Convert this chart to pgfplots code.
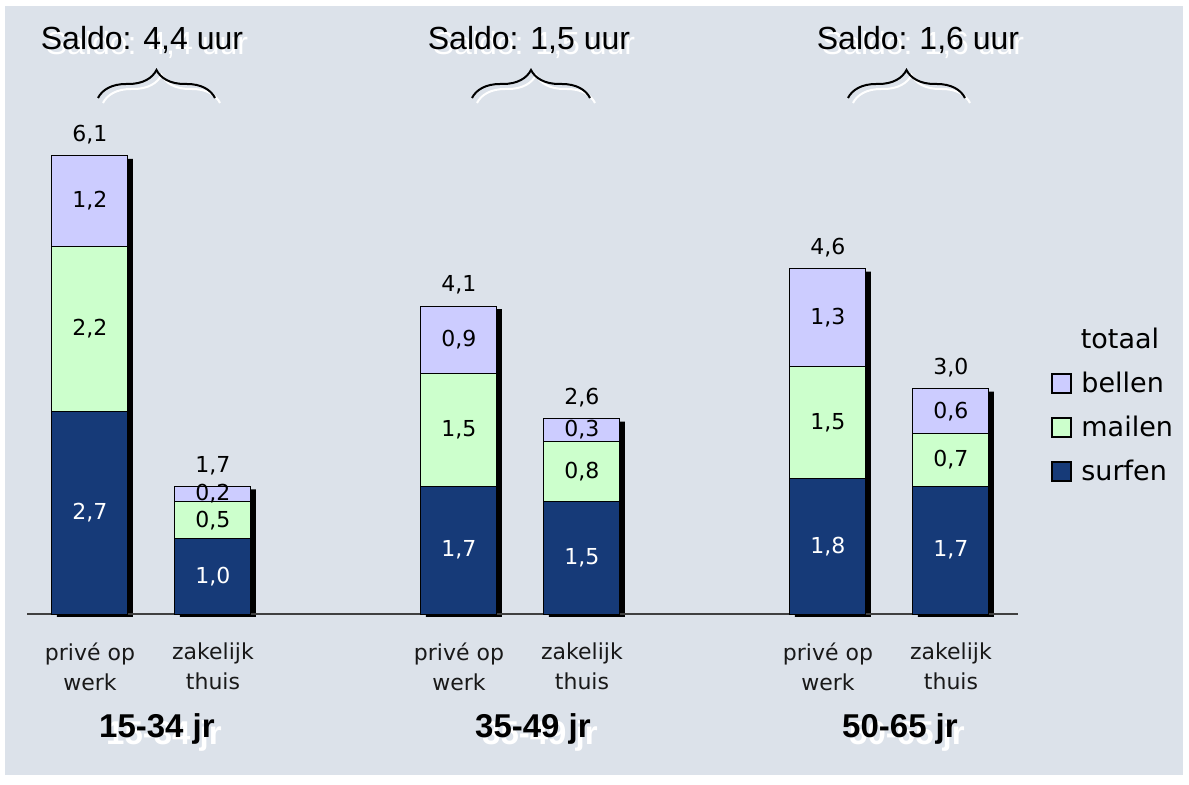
\documentclass[border=0pt]{standalone}
\usepackage{fontspec}
\setmainfont{DejaVu Sans}
\newfontfamily\arial{Liberation Sans}
\usepackage{pgfplots}
\pgfplotsset{compat=1.18}
\usepackage{pgfplotstable}
\usetikzlibrary{decorations.pathreplacing}
\definecolor{bg}{RGB}{220,226,234}
\definecolor{navy}{RGB}{22,58,120}
\definecolor{mgreen}{RGB}{204,255,204}
\definecolor{lav}{RGB}{204,204,255}
\pgfkeys{/pgf/number format/assume math mode=true}
\pgfplotstableread{
x surf mail bel tot
0 2.7 2.2 1.2 6.1
1 1.0 0.5 0.2 1.7
3 1.7 1.5 0.9 4.1
4 1.5 0.8 0.3 2.6
6 1.8 1.5 1.3 4.6
7 1.7 0.7 0.6 3.0
}\data
\newcommand\saldo[2]{%
  \node[anchor=base, white, font=\arial\fontsize{16}{18}\selectfont] at (#1+5,55) {Saldo: #2 uur};
  \node[anchor=base, black, font=\arial\fontsize{16}{18}\selectfont] at (#1,50) {Saldo: #2 uur};}
\newcommand\grp[2]{%
  \node[anchor=base, white, font=\arial\bfseries\fontsize{16.5}{18}\selectfont] at (#1+7,744) {#2};
  \node[anchor=base, black, font=\arial\bfseries\fontsize{16.5}{18}\selectfont] at (#1,738) {#2};}
\begin{document}
\begin{tikzpicture}
\begin{scope}[x=0.5pt,y=-0.5pt]
\fill[white] (0,0) rectangle (1189,785);
\fill[bg] (5,6) rectangle (1183,775);
\end{scope}
% shadow axis (shifted 5px right, 3px down) with totals
\begin{axis}[at={(16pt,-308.5pt)}, anchor=south west, scale only axis,
  width=495.5pt, height=297pt, xmin=-0.512, xmax=7.545, ymin=0, ymax=7.91,
  axis lines=none, ybar, bar width=38pt, clip=false]
\addplot[fill=black, draw=none,
  visualization depends on={\thisrow{tot}\as\totv},
  nodes near coords={\pgfmathprintnumber[fixed,fixed zerofill,precision=1,use comma]{\totv}},
  every node near coord/.append style={font=\fontsize{11}{13}\selectfont, text=black, anchor=center, xshift=-2.5pt, yshift=12pt}]
  table[x=x,y=tot]{\data};
\end{axis}
% main axis
\begin{axis}[at={(13.5pt,-307pt)}, anchor=south west, scale only axis,
  width=495.5pt, height=297pt, xmin=-0.512, xmax=7.545, ymin=0, ymax=7.91,
  axis x line=bottom, axis y line=none,
  x axis line style={-, black!75, line width=0.6pt},
  ybar stacked, bar width=38pt, clip=false,
  xtick={0,1,3,4,6,7},
  xticklabels={{privé op\\werk},{zakelijk\\thuis},{privé op\\werk},{zakelijk\\thuis},{privé op\\werk},{zakelijk\\thuis}},
  major tick length=0pt,
  xticklabel style={align=center, font=\fontsize{11}{15}\selectfont, yshift=-11pt, text=black!90},
  every node near coord/.style={font=\fontsize{11}{13}\selectfont},
]
\addplot[fill=navy, draw=black, line width=0.5pt,
  visualization depends on={\thisrow{surf}\as\hh},
  nodes near coords={\pgfmathprintnumber[fixed,fixed zerofill,precision=1,use comma]{\hh}},
  every node near coord/.append style={text=white, anchor=center}]
  table[x=x,y=surf]{\data};
\addplot[fill=mgreen, draw=black, line width=0.5pt,
  visualization depends on={\thisrow{mail}\as\hh},
  nodes near coords={\pgfmathprintnumber[fixed,fixed zerofill,precision=1,use comma]{\hh}},
  every node near coord/.append style={text=black, anchor=center}]
  table[x=x,y=mail]{\data};
\addplot[fill=lav, draw=black, line width=0.5pt,
  visualization depends on={\thisrow{bel}\as\hh},
  nodes near coords={\pgfmathprintnumber[fixed,fixed zerofill,precision=1,use comma]{\hh}},
  every node near coord/.append style={text=black, anchor=center}]
  table[x=x,y=bel]{\data};
\end{axis}
\begin{scope}[x=0.5pt,y=-0.5pt]
\saldo{142}{4,4}
\saldo{529}{1,5}
\saldo{918}{1,6}
\foreach \a/\b in {98/215, 472/590, 848/965}{
  \draw[white, line width=1pt, decorate, decoration={brace, amplitude=14pt}] (\a+5,103) -- (\b+5,103);
  \draw[black, line width=1pt, decorate, decoration={brace, amplitude=14pt}] (\a,98) -- (\b,98);
}
\grp{157}{15-34 jr}
\grp{533}{35-49 jr}
\grp{900}{50-65 jr}
% legend
\node[anchor=base, font=\fontsize{13.5}{16}\selectfont] at (1120,349) {totaal};
\foreach \c/\t/\y in {lav/bellen/393, mgreen/mailen/437, navy/surfen/481}{
  \draw[fill=\c, line width=0.6pt] (1052,\y-19) rectangle (1071,\y);
  \node[anchor=base west, inner sep=0pt, font=\fontsize{13.5}{16}\selectfont] at (1081,\y) {\t};
}
\end{scope}
\end{tikzpicture}
\end{document}
